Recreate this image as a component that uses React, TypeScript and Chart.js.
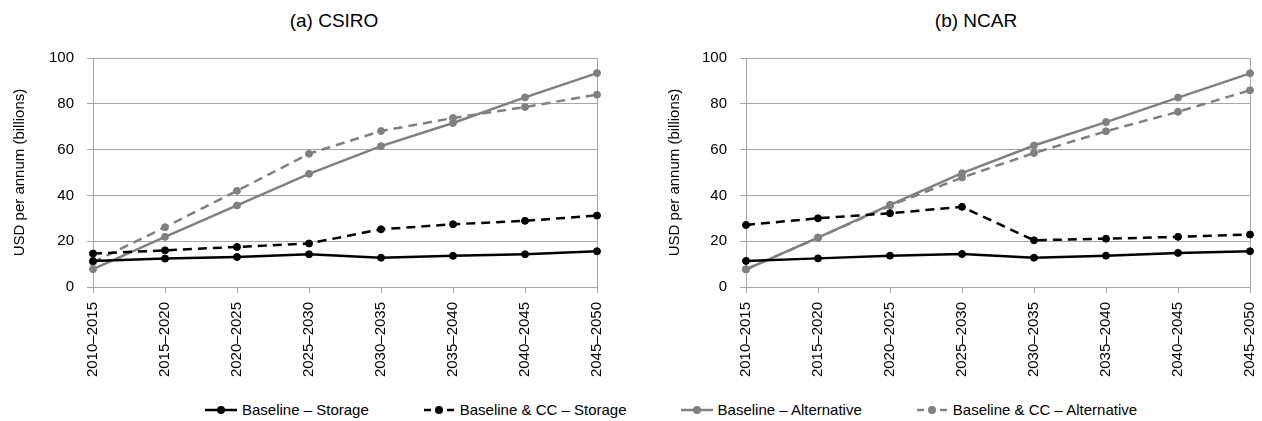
import React, { useEffect, useRef } from "react";
import { Chart, registerables } from "chart.js";

Chart.register(...registerables);

const periods = [
  "2010–2015",
  "2015–2020",
  "2020–2025",
  "2025–2030",
  "2030–2035",
  "2035–2040",
  "2040–2045",
  "2045–2050",
];

const seriesNames = [
  "Baseline – Storage",
  "Baseline & CC – Storage",
  "Baseline – Alternative",
  "Baseline & CC – Alternative",
];

// (a) CSIRO
const csiroBaseStorage = [11.4, 12.4, 13.1, 14.3, 12.8, 13.6, 14.3, 15.6];
const csiroCCStorage = [14.6, 16.0, 17.5, 19.0, 25.2, 27.4, 28.9, 31.2];
const csiroBaseAlt = [7.8, 21.9, 35.6, 49.4, 61.5, 71.6, 82.8, 93.4];
const csiroCCAlt = [10.8, 26.1, 42.0, 58.2, 68.1, 73.8, 78.6, 84.0];

// (b) NCAR
const ncarBaseStorage = [11.4, 12.5, 13.7, 14.4, 12.8, 13.7, 14.9, 15.6];
const ncarCCStorage = [27.1, 30.0, 32.2, 35.0, 20.4, 21.1, 21.9, 22.9];
const ncarBaseAlt = [7.7, 21.6, 35.9, 49.7, 61.8, 72.0, 82.7, 93.3];
const ncarCCAlt = [7.7, 21.5, 35.5, 47.8, 58.5, 68.0, 76.5, 85.9];

const yMin = 0;
const yMax = 100;
const yStep = 20;

const FONT = "'Liberation Sans', Arial, sans-serif";
const BLACK = "#000000";
const GRAY = "#808080";
const GRID = "#a6a6a6";
const seriesColors = [BLACK, BLACK, GRAY, GRAY];
const seriesDashed = [false, true, false, true];

function makeDataset(i: number, data: number[]) {
  const color = seriesColors[i];
  return {
    label: seriesNames[i],
    data,
    borderColor: color,
    backgroundColor: color,
    borderWidth: 2.5,
    borderDash: seriesDashed[i] ? [9, 6] : [],
    pointRadius: 3.5,
    pointHoverRadius: 3.5,
    pointBackgroundColor: color,
    pointBorderColor: color,
    pointBorderWidth: 1,
    tension: 0,
    fill: false,
  };
}

type PanelProps = {
  left: number;
  width: number;
  series: number[][];
  yWidth: number;
  titlePad: number;
  padRight: number;
};

const CANVAS_H = 395;

function Panel({ left, width, series, yWidth, titlePad, padRight }: PanelProps) {
  const ref = useRef<HTMLCanvasElement>(null);
  useEffect(() => {
    const font = { family: FONT, size: 15 };
    const chart = new Chart(ref.current as HTMLCanvasElement, {
      type: "line",
      data: {
        labels: periods,
        datasets: series.map((d, i) => makeDataset(i, d)),
      },
      options: {
        animation: false,
        responsive: false,
        events: [],
        layout: {
          padding: { left: 0, right: padRight, top: 58, bottom: 0 },
          autoPadding: false,
        },
        plugins: {
          legend: { display: false },
          title: { display: false },
          tooltip: { enabled: false },
        },
        scales: {
          x: {
            type: "category",
            offset: false,
            grid: {
              drawOnChartArea: false,
              drawTicks: true,
              tickLength: 6,
              color: GRID,
              lineWidth: 1,
            },
            border: { display: true, color: GRID, width: 1 },
            ticks: {
              maxRotation: 90,
              minRotation: 90,
              autoSkip: false,
              padding: 9,
              color: BLACK,
              font,
            },
            afterFit: (s: any) => {
              s.height = CANVAS_H - 287;
              s.paddingLeft = 0;
              s.paddingRight = 0;
            },
          },
          y: {
            type: "linear",
            min: yMin,
            max: yMax,
            ticks: { stepSize: yStep, padding: 13, color: BLACK, font },
            grid: { color: GRID, tickLength: 6, drawTicks: true, lineWidth: 1 },
            border: { display: true, color: GRID, width: 1 },
            title: {
              display: true,
              text: "USD per annum (billions)",
              color: BLACK,
              font,
              padding: { top: titlePad, bottom: 0 },
            },
            afterFit: (s: any) => {
              s.width = yWidth;
            },
          },
          y2: {
            type: "linear",
            position: "right",
            min: yMin,
            max: yMax,
            grid: { display: false, drawTicks: false },
            ticks: { display: false },
            border: { display: true, color: GRID, width: 1 },
            afterFit: (s: any) => {
              s.width = 0;
            },
          },
        },
      },
    } as any);
    return () => chart.destroy();
  }, []);
  return (
    <canvas
      ref={ref}
      width={width}
      height={CANVAS_H}
      style={{ position: "absolute", left, top: 0, width, height: CANVAS_H }}
    />
  );
}

function LegendSymbol({ color, dashed }: { color: string; dashed: boolean }) {
  return (
    <svg width={32} height={12} style={{ display: "block" }}>
      {dashed ? (
        <>
          <line x1={1} y1={6} x2={8} y2={6} stroke={color} strokeWidth={2.5} />
          <line x1={24} y1={6} x2={31} y2={6} stroke={color} strokeWidth={2.5} />
        </>
      ) : (
        <line x1={0} y1={6} x2={32} y2={6} stroke={color} strokeWidth={2.5} />
      )}
      <circle cx={16} cy={6} r={4} fill={color} />
    </svg>
  );
}

export default function App() {
  const titleStyle: React.CSSProperties = {
    position: "absolute",
    top: 9,
    width: 200,
    textAlign: "center",
    fontFamily: FONT,
    fontSize: 19,
    lineHeight: "24px",
    color: BLACK,
  };
  return (
    <div
      style={{
        position: "absolute",
        left: 0,
        top: 0,
        width: 1262,
        height: 421,
        background: "#ffffff",
        overflow: "hidden",
      }}
    >
      <div style={{ ...titleStyle, left: 334 - 100 }}>(a) CSIRO</div>
      <div style={{ ...titleStyle, left: 976 - 100 }}>(b) NCAR</div>
      <Panel
        left={0}
        width={631}
        series={[csiroBaseStorage, csiroCCStorage, csiroBaseAlt, csiroCCAlt]}
        yWidth={93}
        titlePad={11}
        padRight={631 - 597}
      />
      <Panel
        left={631}
        width={631}
        series={[ncarBaseStorage, ncarCCStorage, ncarBaseAlt, ncarCCAlt]}
        yWidth={746 - 631}
        titlePad={675 - 631 - 9}
        padRight={631 - (1250 - 631)}
      />
      <div
        style={{
          position: "absolute",
          left: 205,
          top: 400,
          display: "flex",
          alignItems: "center",
          fontFamily: FONT,
          fontSize: 15,
          lineHeight: "20px",
          color: BLACK,
          whiteSpace: "nowrap",
        }}
      >
        {seriesNames.map((name, i) => (
          <div
            key={name}
            style={{ display: "flex", alignItems: "center", marginRight: i < 3 ? 54 : 0 }}
          >
            <LegendSymbol color={seriesColors[i]} dashed={seriesDashed[i]} />
            <span style={{ marginLeft: 5 }}>{name}</span>
          </div>
        ))}
      </div>
    </div>
  );
}
